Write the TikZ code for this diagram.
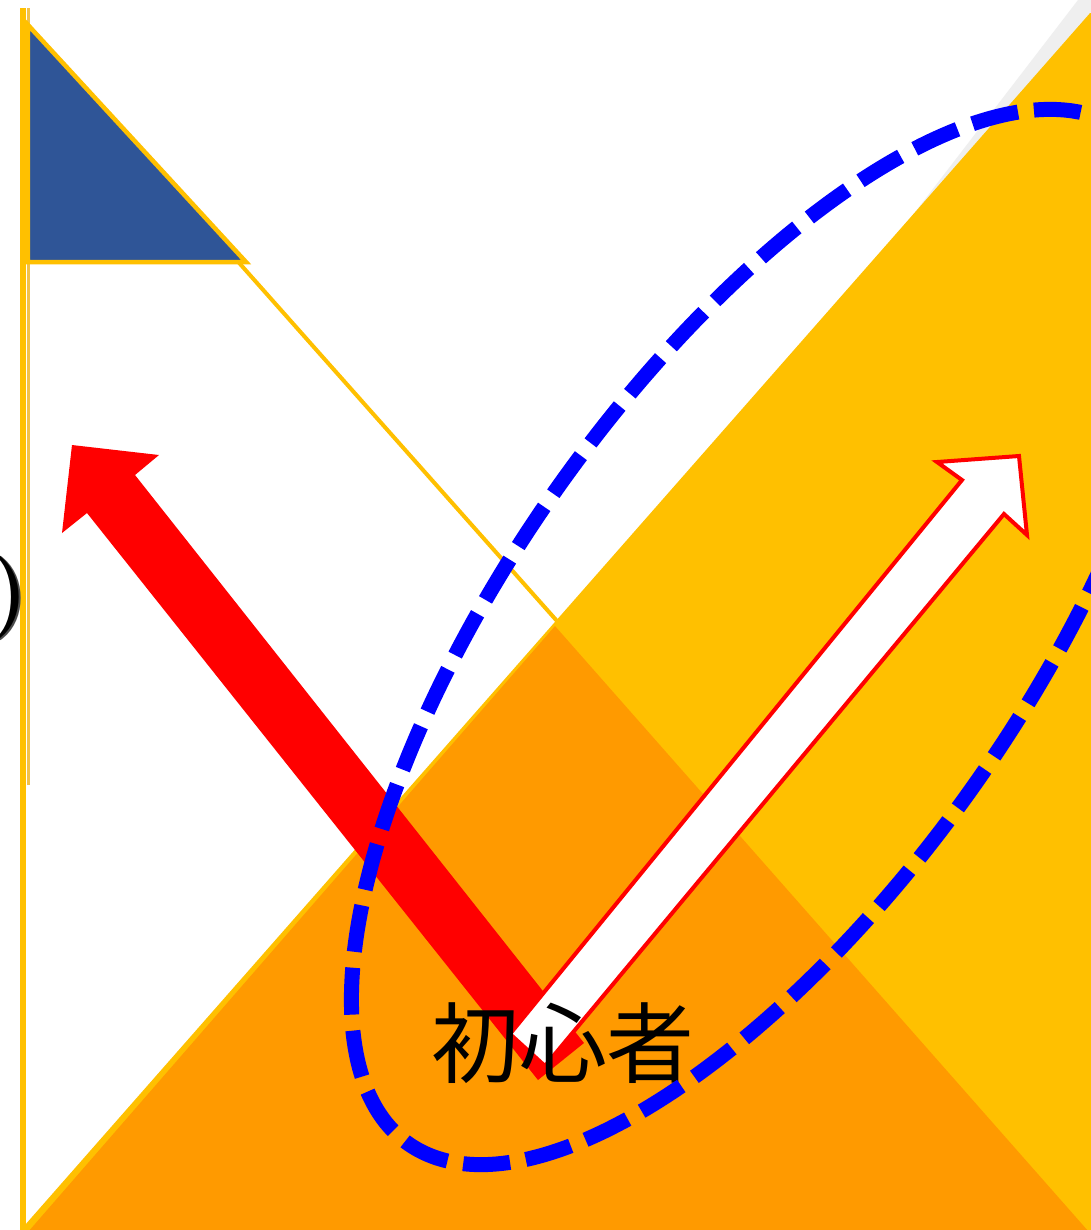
\documentclass[tikz,border=0pt]{standalone}
\usepackage{fontspec}
\newfontfamily\cjk{Noto Sans CJK JP}
\definecolor{cyellow}{HTML}{FFC000}
\definecolor{corange}{HTML}{FF9A00}
\definecolor{cnavy}{HTML}{2F5597}
\definecolor{cgray}{HTML}{EFEFEF}
\definecolor{cdash}{HTML}{0000FF}
\definecolor{cpale}{HTML}{F2C14A}
\tikzset{
  yline/.style={draw=cyellow, line width=0.4mm},
  dashring/.style={draw=cdash, line width=1.5mm, dash pattern=on 4.7mm off 1.6mm},
  redblock/.style={fill=red},
  whiteblock/.style={fill=white, draw=red, line width=0.4mm, line join=miter},
  lbl/.style={inner sep=0pt, text=black}
}
\begin{document}
\begin{tikzpicture}[x=0.1mm, y=-0.1mm]
\clip (0,0) rectangle (1091,1230);
\fill[white] (0,0) rectangle (1091,1230);
% grey sliver at top right
\fill[cgray] (1078,0) -- (1104,0) -- (896,237) -- cycle;
% yellow right triangle
\filldraw[fill=cyellow, yline] (25,1228) -- (1091,15) -- (1120,15) -- (1120,1240) -- (25,1240) -- cycle;
% orange bottom triangle
\fill[corange] (28,1232) -- (555,626) -- (1089,1232) -- cycle;
% left vertical lines
\draw[cyellow, line width=0.55mm] (23,8) -- (23,1232);
\draw[cpale, line width=0.3mm] (28.5,8) -- (28.5,785);
% long diagonal
\draw[yline] (28,25) -- (557,621);
% navy triangle
\filldraw[fill=cnavy, yline, line width=0.45mm] (28,25) -- (28,262) -- (246,262) -- cycle;
% red block arrow
\fill[redblock] (72,445) -- (159,455) -- (135,475) -- (584,1043) -- (538,1080) -- (87,513) -- (62,533) -- cycle;
% white arrow with red outline
\filldraw[whiteblock] (1019,456) -- (937,462) -- (962,480) -- (510,1034) -- (545,1066) -- (1004,514) -- (1027,535) -- cycle;
% label
\node[lbl, font=\cjk\fontsize{25}{30}\selectfont] (beginner) at (563,1043) {初心者};
% cut parenthesis at left edge
\node[lbl, text=black!70, anchor=east, font=\bfseries\fontsize{24}{28}\selectfont] (parenB) at (31.5,598) {)};
\node[lbl, anchor=east, font=\bfseries\fontsize{24}{28}\selectfont] (parenA) at (29.5,597) {)};
% dashed ellipse
\draw[dashring] plot[domain=0:360, samples=240, smooth cycle]
  ({765.5+620*cos(\x)*cos(54.8)+256*sin(\x)*sin(54.8)}, {637-620*cos(\x)*sin(54.8)+256*sin(\x)*cos(54.8)});
\end{tikzpicture}
\end{document}
